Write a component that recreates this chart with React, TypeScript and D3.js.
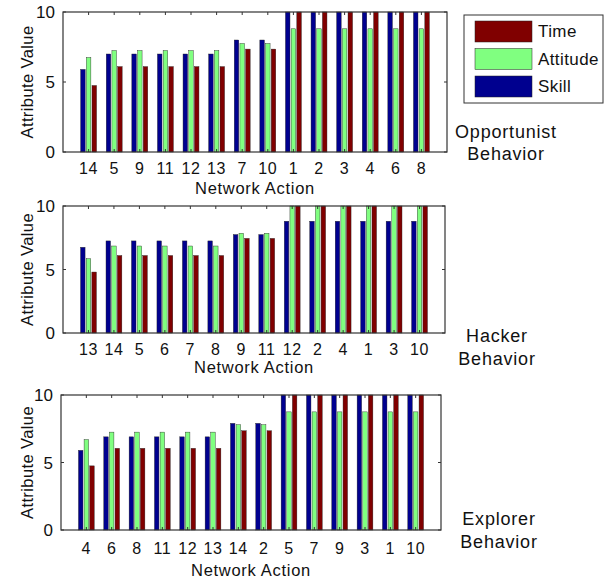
import React from "react";
import * as d3 from "d3";

// series order in each group: Skill, Attitude, Time
const seriesNames = ["Skill", "Attitude", "Time"];
const seriesColors = ["#00008f", "#80ff80", "#800000"];
const legendOrder = ["Time", "Attitude", "Skill"];
const yTicks = [0, 5, 10];

// Opportunist
const oppActions = ["14", "5", "9", "11", "12", "13", "7", "10", "1", "2", "3", "4", "6", "8"];
const oppSkill = [5.9, 7.0, 7.0, 7.0, 7.0, 7.0, 8.0, 8.0, 10, 10, 10, 10, 10, 10];
const oppAttitude = [6.75, 7.25, 7.25, 7.25, 7.25, 7.25, 7.75, 7.75, 8.8, 8.8, 8.8, 8.8, 8.8, 8.8];
const oppTime = [4.75, 6.1, 6.1, 6.1, 6.1, 6.1, 7.35, 7.35, 10, 10, 10, 10, 10, 10];

// Hacker
const hackActions = ["13", "14", "5", "6", "7", "8", "9", "11", "12", "2", "4", "1", "3", "10"];
const hackSkill = [6.75, 7.25, 7.25, 7.25, 7.25, 7.25, 7.75, 7.75, 8.8, 8.8, 8.8, 8.8, 8.8, 8.8];
const hackAttitude = [5.85, 6.85, 6.85, 6.85, 6.85, 6.85, 7.85, 7.85, 10, 10, 10, 10, 10, 10];
const hackTime = [4.8, 6.1, 6.1, 6.1, 6.1, 6.1, 7.45, 7.45, 10, 10, 10, 10, 10, 10];

// Explorer
const explActions = ["4", "6", "8", "11", "12", "13", "14", "2", "5", "7", "9", "3", "1", "10"];
const explSkill = [5.9, 6.9, 6.9, 6.9, 6.9, 6.9, 7.9, 7.9, 10, 10, 10, 10, 10, 10];
const explAttitude = [6.7, 7.25, 7.25, 7.25, 7.25, 7.25, 7.8, 7.8, 8.75, 8.75, 8.75, 8.75, 8.75, 8.75];
const explTime = [4.75, 6.05, 6.05, 6.05, 6.05, 6.05, 7.35, 7.35, 10, 10, 10, 10, 10, 10];

const panels = [
  {
    actions: oppActions, values: [oppSkill, oppAttitude, oppTime],
    label: ["Opportunist", "Behavior"],
    left: 63, right: 447, top: 12, bottom: 152,
    tickBase: 174, xTitleBase: 194, labelX: 506, labelBase: [138, 160],
  },
  {
    actions: hackActions, values: [hackSkill, hackAttitude, hackTime],
    label: ["Hacker", "Behavior"],
    left: 63, right: 445, top: 206, bottom: 333,
    tickBase: 355, xTitleBase: 373, labelX: 497, labelBase: [342, 365],
  },
  {
    actions: explActions, values: [explSkill, explAttitude, explTime],
    label: ["Explorer", "Behavior"],
    left: 61, right: 441, top: 395, bottom: 530,
    tickBase: 554, xTitleBase: 576, labelX: 499, labelBase: [525, 548],
  },
];

const font = "'Liberation Sans', Arial, Helvetica, sans-serif";

function Panel({ p }) {
  const x = d3.scaleLinear().domain([0, 15]).range([p.left, p.right]);
  const y = d3.scaleLinear().domain([0, 10]).range([p.bottom, p.top]);
  const groupW = 2 / 3;
  const step = groupW / 3;
  const barW = step * 0.8;
  const unit = x(1) - x(0);
  const midY = (p.top + p.bottom) / 2;

  return (
    <g>
      {p.actions.map((a, i) =>
        p.values.map((vals, s) => {
          const cx = x(i + 1) + (s - 1) * step * unit;
          return (
            <rect
              key={`${a}-${s}`}
              x={cx - (barW * unit) / 2}
              y={y(vals[i])}
              width={barW * unit}
              height={y(0) - y(vals[i])}
              fill={seriesColors[s]}
              stroke="#222"
              strokeWidth={0.4}
            />
          );
        })
      )}
      {/* axes box */}
      <rect
        x={p.left}
        y={p.top}
        width={p.right - p.left}
        height={p.bottom - p.top}
        fill="none"
        stroke="#333"
        strokeWidth={1.2}
      />
      {/* tick marks */}
      {p.actions.map((a, i) => (
        <g key={`t-${a}`}>
          <line x1={x(i + 1)} x2={x(i + 1)} y1={p.top} y2={p.top + 3} stroke="#333" />
          <line x1={x(i + 1)} x2={x(i + 1)} y1={p.bottom} y2={p.bottom - 3} stroke="#333" />
        </g>
      ))}
      {yTicks.map((t) => (
        <g key={`y-${t}`}>
          <line x1={p.left} x2={p.left + 3} y1={y(t)} y2={y(t)} stroke="#333" />
          <line x1={p.right} x2={p.right - 3} y1={y(t)} y2={y(t)} stroke="#333" />
          <text
            x={p.left - 8}
            y={y(t)}
            dy="0.36em"
            textAnchor="end"
            fontSize={17}
            fontFamily={font}
            fill="#111"
          >
            {t}
          </text>
        </g>
      ))}
      {p.actions.map((a, i) => (
        <text
          key={`xl-${a}`}
          x={x(i + 1)}
          y={p.tickBase}
          textAnchor="middle"
          fontSize={16}
          fontFamily={font}
          letterSpacing={0.6}
          fill="#111"
        >
          {a}
        </text>
      ))}
      <text
        x={(p.left + p.right) / 2}
        y={p.xTitleBase}
        textAnchor="middle"
        fontSize={16.5}
        fontFamily={font}
        letterSpacing={0.7}
        fill="#111"
      >
        Network Action
      </text>
      <text
        transform={`translate(33,${midY}) rotate(-90)`}
        textAnchor="middle"
        fontSize={16.5}
        fontFamily={font}
        letterSpacing={0.4}
        fill="#111"
      >
        Attribute Value
      </text>
      {p.label.map((l, k) => (
        <text
          key={l}
          x={p.labelX}
          y={p.labelBase[k]}
          textAnchor="middle"
          fontSize={18}
          fontFamily={font}
          letterSpacing={0.8}
          fill="#111"
        >
          {l}
        </text>
      ))}
    </g>
  );
}

export default function App() {
  return (
    <svg
      width={607}
      height={581}
      style={{ position: "absolute", left: 0, top: 0, background: "#fff" }}
    >
      {panels.map((p, i) => (
        <Panel key={i} p={p} />
      ))}
      {/* legend */}
      <rect x={464} y={15} width={139} height={88} fill="#fff" stroke="#333" strokeWidth={1} />
      {legendOrder.map((name, i) => {
        const s = seriesNames.indexOf(name);
        const ry = 21 + i * 27.5;
        return (
          <g key={name}>
            <rect x={475} y={ry} width={57} height={21} fill={seriesColors[s]} stroke="#222" strokeWidth={0.5} />
            <text
              x={538}
              y={ry + 16}
              fontSize={17}
              fontFamily={font}
              letterSpacing={0.4}
              fill="#111"
            >
              {name}
            </text>
          </g>
        );
      })}
    </svg>
  );
}
